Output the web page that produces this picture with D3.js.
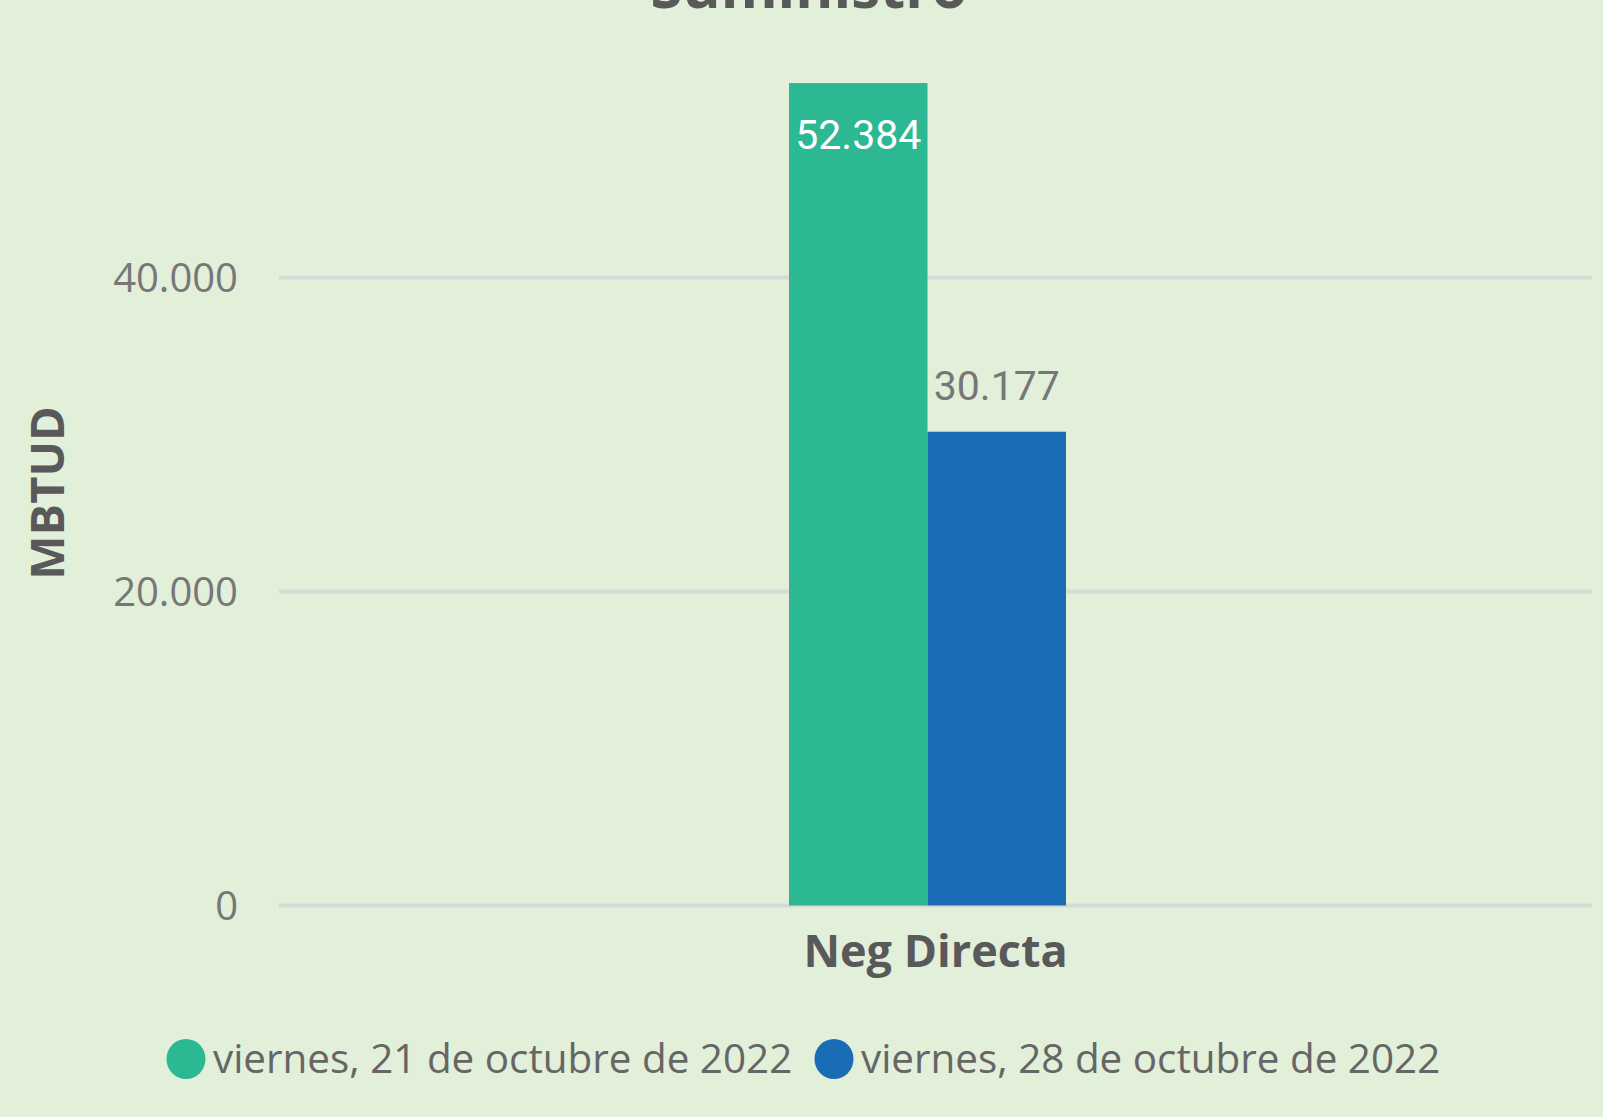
<!DOCTYPE html>
<html>
<head>
<meta charset="utf-8">
<script src="https://cdn.jsdelivr.net/npm/d3@7"></script>
<style>
    html, body { margin: 0; padding: 0; background: #e2efd9; }
    svg { display: block; }
</style>
</head>
<body>
<div id="chart"></div>
<script>
const categories = ['Neg Directa']
const seriesNames = ['viernes, 21 de octubre de 2022', 'viernes, 28 de octubre de 2022']
const seriesValues = [[52384], [30177]]
const yTicks = [0, 20000, 40000]
const chartTitle = 'Suministro'
const yTitle = 'MBTUD'

const colors = ['#2cb893', '#1a6db5']
const fmt = d3.formatLocale({ decimal: ',', thousands: '.', grouping: [3], currency: ['', ''] }).format(',.0f')

const width = 1603
const height = 1117
const plot = { left: 279, right: 1592, top: 277.5, bottom: 905.5 }

const svg = d3.select('#chart').append('svg')
    .attr('width', width)
    .attr('height', height)

svg.append('rect')
    .attr('width', width)
    .attr('height', height)
    .attr('fill', '#e2efd9')

const x0 = d3.scaleBand()
    .domain(categories)
    .range([plot.left, plot.right])

// bars sit a bit left of the category centre in the original
const groupWidth = 277
const groupShift = -8
const x1 = d3.scaleBand()
    .domain(seriesNames)
    .range([0, groupWidth])

const y = d3.scaleLinear()
    .domain([0, 40000])
    .range([plot.bottom, plot.top])

// gridlines
svg.append('g')
    .selectAll('line')
    .data(yTicks)
    .join('line')
    .attr('x1', plot.left)
    .attr('x2', plot.right)
    .attr('y1', d => y(d))
    .attr('y2', d => y(d))
    .attr('stroke', '#d9d9d9')
    .attr('stroke-width', 4)

// y tick labels
svg.append('g')
    .selectAll('text')
    .data(yTicks)
    .join('text')
    .attr('x', 238)
    .attr('y', d => y(d))
    .attr('dy', '0.35em')
    .attr('text-anchor', 'end')
    .attr('font-family', '"Segoe UI", "Open Sans", sans-serif')
    .attr('font-size', 40)
    .attr('fill', '#777777')
    .text(d => fmt(d))

const rows = []
categories.forEach((c, ci) => {
    seriesNames.forEach((s, si) => {
        rows.push({ category: c, series: s, index: si, value: seriesValues[si][ci] })
    })
})

const groupX = d => x0(d.category) + x0.bandwidth() / 2 - groupWidth / 2 + groupShift

const bars = svg.append('g')
    .selectAll('g')
    .data(rows)
    .join('g')

bars.append('rect')
    .attr('x', d => groupX(d) + x1(d.series))
    .attr('width', x1.bandwidth())
    .attr('y', d => y(d.value))
    .attr('height', d => y(0) - y(d.value))
    .attr('fill', d => colors[d.index])

// data labels: inside the top when they fit, else above
bars.append('text')
    .attr('x', d => groupX(d) + x1(d.series) + x1.bandwidth() / 2)
    .attr('y', d => d.value > 45000 ? y(d.value) + 66 : y(d.value) - 32)
    .attr('text-anchor', 'middle')
    .attr('font-family', 'Roboto, sans-serif')
    .attr('font-size', 41)
    .attr('fill', d => d.value > 45000 ? '#ffffff' : '#777777')
    .text(d => fmt(d.value))

// category label
svg.append('g')
    .selectAll('text')
    .data(categories)
    .join('text')
    .attr('x', d => x0(d) + x0.bandwidth() / 2)
    .attr('y', 967)
    .attr('text-anchor', 'middle')
    .attr('font-family', '"Segoe UI", "Open Sans", sans-serif')
    .attr('font-weight', 700)
    .attr('font-size', 45)
    .attr('fill', '#595959')
    .text(d => d)

// titles (the chart title is cut off by the top edge in the original)
svg.append('text')
    .attr('x', 809)
    .attr('y', 8)
    .attr('text-anchor', 'middle')
    .attr('font-family', '"Segoe UI", "Open Sans", sans-serif')
    .attr('font-weight', 700)
    .attr('font-size', 58)
    .attr('fill', '#595959')
    .text(chartTitle)

svg.append('text')
    .attr('transform', 'translate(64, 493) rotate(-90)')
    .attr('text-anchor', 'middle')
    .attr('font-family', '"Segoe UI", "Open Sans", sans-serif')
    .attr('font-weight', 700)
    .attr('font-size', 47)
    .attr('fill', '#595959')
    .text(yTitle)

// legend
const legend = svg.append('g')
const legendX = [186, 834]
const legendItems = legend.selectAll('g')
    .data(seriesNames)
    .join('g')
    .attr('transform', (d, i) => `translate(${legendX[i]}, 1059)`)

legendItems.append('ellipse')
    .attr('rx', 19.5)
    .attr('ry', 20)
    .attr('fill', (d, i) => colors[i])

legendItems.append('text')
    .attr('x', 27)
    .attr('dy', '0.35em')
    .attr('font-family', '"Segoe UI", "Open Sans", sans-serif')
    .attr('font-size', 40.4)
    .attr('fill', '#666666')
    .text(d => d)
</script>
</body>
</html>
